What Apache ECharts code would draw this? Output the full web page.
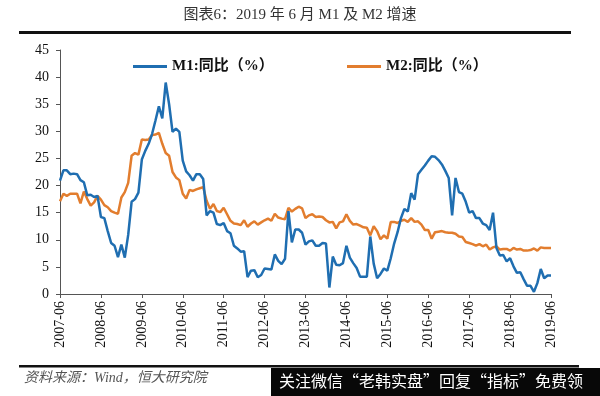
<!DOCTYPE html>
<html><head><meta charset="utf-8">
<script src="https://cdn.jsdelivr.net/npm/echarts@6/dist/echarts.min.js"></script>
<style>html,body{margin:0;padding:0;background:#fff}#c{width:600px;height:396px}</style>
</head><body><div id="c"></div>
<script>
// categories: monthly, 2007-06 .. 2019-06
var startYear = 2007, startMonth = 6, endYear = 2019, endMonth = 6;
var categories = [];
for (var y = startYear, m = startMonth; y < endYear || (y === endYear && m <= endMonth); ) {
  categories.push(y + '-' + (m < 10 ? '0' + m : m));
  m++; if (m > 12) { m = 1; y++; }
}
var yTicks = [0, 5, 10, 15, 20, 25, 30, 35, 40, 45];
var seriesNames = ['M1:同比（%）', 'M2:同比（%）'];

var m1 = [
  20.9, 22.8, 22.8, 22.1, 22.2, 22.1, 21.0,
  20.6, 18.2, 18.3, 17.9, 18.1, 14.2, 14.0, 11.6, 9.4, 8.9, 6.8, 9.1,
  6.7, 10.9, 17.0, 17.5, 18.7, 24.8, 26.4, 27.7, 29.5, 32.0, 34.6, 32.4,
  39.0, 35.0, 29.9, 30.5, 29.9, 24.6, 22.6, 21.9, 20.9, 22.1, 22.1, 21.2,
  14.5, 15.3, 15.0, 12.9, 12.7, 13.1, 11.6, 11.2, 8.9, 8.4, 7.8, 7.9,
  3.1, 4.3, 4.4, 3.1, 3.5, 4.7, 4.6, 4.5, 7.3, 6.1, 5.5, 6.5,
  15.3, 9.5, 11.9, 11.9, 11.3, 9.1, 9.7, 9.9, 8.9, 8.9, 9.4, 9.3,
  1.2, 6.9, 5.4, 5.3, 5.7, 8.9, 6.7, 5.7, 4.8, 3.2, 3.2, 3.2,
  10.6, 5.6, 2.9, 3.7, 4.7, 4.3, 6.6, 9.3, 11.4, 14.0, 15.7, 15.2,
  18.6, 17.4, 22.1, 22.9, 23.7, 24.6, 25.4, 25.3, 24.7, 23.9, 22.7, 21.4,
  14.5, 21.4, 18.8, 18.5, 17.0, 15.0, 15.3, 14.0, 14.0, 13.0, 12.7, 11.8,
  15.0, 8.5, 7.1, 7.2, 6.0, 6.6, 5.1, 3.9, 4.0, 2.7, 1.5, 1.5,
  0.4, 2.0, 4.6, 2.9, 3.4, 3.4
];
var m2 = [
  17.1, 18.5, 18.1, 18.5, 18.5, 18.5, 16.7,
  18.9, 17.5, 16.3, 16.9, 18.1, 17.4, 16.4, 16.0, 15.3, 15.0, 14.8, 17.8,
  18.8, 20.5, 25.5, 26.0, 25.7, 28.5, 28.4, 28.5, 29.3, 29.4, 29.7, 27.7,
  26.0, 25.5, 22.5, 21.5, 21.0, 18.5, 17.6, 19.2, 19.0, 19.3, 19.5, 19.7,
  17.2, 15.7, 16.6, 15.3, 15.1, 15.9, 14.7, 13.5, 13.0, 12.9, 12.7, 13.6,
  12.4, 13.0, 13.4, 12.8, 13.2, 13.6, 13.9, 13.5, 14.8, 14.1, 13.9, 13.8,
  15.9, 15.2, 15.7, 16.1, 15.8, 14.0, 14.5, 14.7, 14.2, 14.3, 14.2, 13.6,
  13.2, 13.3, 12.1, 13.2, 13.4, 14.7, 13.5, 12.8, 12.9, 12.6, 12.3, 12.2,
  10.8, 12.5, 11.6, 10.1, 10.8, 10.2, 13.3, 13.3, 13.1, 13.5, 13.7, 13.3,
  14.0, 13.3, 13.4, 12.8, 11.8, 11.8, 10.2, 11.4, 11.5, 11.6, 11.4, 11.3,
  11.3, 11.1, 10.6, 10.5, 9.6, 9.4, 9.2, 8.9, 9.2, 8.8, 9.1, 8.2,
  8.6, 8.8, 8.2, 8.3, 8.3, 8.0, 8.5, 8.2, 8.3, 8.0, 8.0, 8.1,
  8.4, 8.0, 8.6, 8.5, 8.5, 8.5
];

var serif = '"Liberation Serif", "Noto Sans CJK SC", serif';
var chart = echarts.init(document.getElementById('c'), null, {renderer: 'canvas'});
chart.setOption({
  animation: false,
  backgroundColor: '#fff',
  grid: {left: 60, right: 49, top: 50, bottom: 102, containLabel: false},
  legend: [
    {data: [seriesNames[0]], left: 128, top: 54, icon: 'rect', itemWidth: 34, itemHeight: 3, itemGap: 4,
     textStyle: {fontFamily: serif, fontWeight: 'bold', fontSize: 15, color: '#111'}},
    {data: [seriesNames[1]], left: 342, top: 54, icon: 'rect', itemWidth: 34, itemHeight: 3, itemGap: 4,
     textStyle: {fontFamily: serif, fontWeight: 'bold', fontSize: 15, color: '#111'}}
  ],
  xAxis: {
    type: 'category', data: categories, boundaryGap: false,
    axisLine: {lineStyle: {color: '#555', width: 1}},
    axisTick: {interval: 11, length: 4, lineStyle: {color: '#555'}},
    axisLabel: {interval: 11, rotate: 90, fontFamily: serif, fontSize: 14, color: '#111', margin: 7},
    splitLine: {show: false}
  },
  yAxis: {
    type: 'value', min: yTicks[0], max: yTicks[yTicks.length - 1], interval: 5,
    axisLine: {show: true, lineStyle: {color: '#555', width: 1}},
    axisTick: {show: true, length: 4, lineStyle: {color: '#555'}},
    axisLabel: {fontFamily: serif, fontSize: 14, color: '#111', margin: 11},
    splitLine: {show: false}
  },
  series: [
    {name: seriesNames[0], type: 'line', data: m1, symbol: 'none', color: '#1f6eb1',
     lineStyle: {width: 2.5, color: '#1f6eb1'}, z: 3},
    {name: seriesNames[1], type: 'line', data: m2, symbol: 'none', color: '#e27d2e',
     lineStyle: {width: 2.5, color: '#e27d2e'}, z: 2}
  ],
  graphic: [
    {type: 'text', left: 'center', top: 8, style: {text: '图表6：2019 年 6 月 M1 及 M2 增速', font: '15px ' + serif, fill: '#333'}},
    {type: 'rect', shape: {x: 19, y: 31, width: 552, height: 3}, style: {fill: '#111'}},
    {type: 'rect', shape: {x: 19, y: 365, width: 560, height: 2.5}, style: {fill: '#111'}},
    {type: 'text', left: 24, top: 371, style: {text: '资料来源：Wind，恒大研究院', font: 'italic 14px ' + serif, fill: '#555'}},
    {type: 'rect', shape: {x: 271, y: 368, width: 329, height: 28}, style: {fill: '#080808'}, z: 10},
    {type: 'text', left: 279, top: 373, z: 11, style: {text: '关注微信“老韩实盘”回复“指标”免费领', font: '16px "Noto Sans CJK SC", sans-serif', fill: '#fff'}}
  ]
});
</script></body></html>
